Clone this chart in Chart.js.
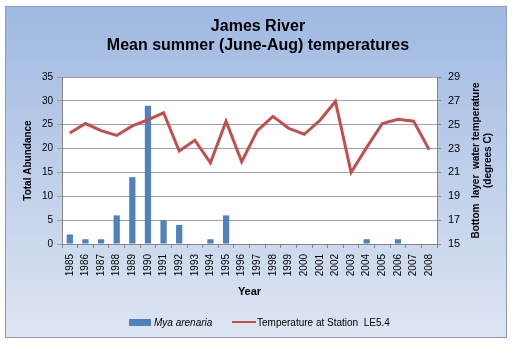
<!DOCTYPE html>
<html>
<head>
<meta charset="utf-8">
<script src="https://cdn.jsdelivr.net/npm/chart.js@4.4.0/dist/chart.umd.min.js"></script>
<style>
  html, body { margin: 0; padding: 0; background: #fff; }
  #chart { display: block; }
</style>
</head>
<body>
<canvas id="chart" width="515" height="345"></canvas>
<script>
(function () {
    "use strict";

    // Data
    const years = ['1985', '1986', '1987', '1988', '1989', '1990', '1991', '1992', '1993', '1994', '1995', '1996',
        '1997', '1998', '1999', '2000', '2001', '2002', '2003', '2004', '2005', '2006', '2007', '2008'];
    const abundance = [2, 1, 1, 6, 14, 29, 5, 4, 0, 1, 6, 0, 0, 0, 0, 0, 0, 0, 0, 1, 0, 1, 0, 0];
    const temperature = [24.3, 25.1, 24.5, 24.1, 24.9, 25.4, 26.0, 22.8, 23.7, 21.8, 25.3, 21.9,
        24.5, 25.7, 24.7, 24.2, 25.35, 26.95, 21.0, 23.1, 25.1, 25.45, 25.3, 22.9];

    const titleLines = ['James River', 'Mean summer (June-Aug) temperatures'];
    const barLabel = 'Mya arenaria';
    const lineLabel = 'Temperature at Station  LE5.4';
    const rightTitle = ['Bottom  layer  water temperature', '(degrees C)'];

    const FONT = '"Liberation Sans", Arial, sans-serif';
    const BLUE = '#4f81bd';
    const RED = '#c0504d';
    const AXIS = '#868686';

    // Frame, title, legend and right axis title
    const framePlugin = {
        id: 'frame',
        beforeDraw: function (chart) {
            const ctx = chart.ctx;
            const a = chart.chartArea;
            ctx.save();
            ctx.fillStyle = '#ffffff';
            ctx.fillRect(0, 0, chart.width, chart.height);
            const g = ctx.createLinearGradient(0, 6, 0, 338);
            g.addColorStop(0, '#9fb9e2');
            g.addColorStop(1, '#dde5f2');
            ctx.fillStyle = g;
            ctx.fillRect(5.5, 6.5, 501, 331);
            ctx.strokeStyle = '#8c9cb4';
            ctx.lineWidth = 1;
            ctx.strokeRect(5.5, 6.5, 501, 331);
            ctx.fillStyle = '#ffffff';
            ctx.fillRect(a.left, a.top, a.right - a.left, a.bottom - a.top);
            ctx.restore();
        },
        afterDraw: function (chart) {
            const ctx = chart.ctx;
            const a = chart.chartArea;
            ctx.save();
            ctx.fillStyle = '#000';
            ctx.textAlign = 'center';
            ctx.textBaseline = 'middle';
            ctx.font = 'bold 16px ' + FONT;
            ctx.fillText(titleLines[0], 258, 27);
            ctx.fillText(titleLines[1], 258, 46);

            // right axis title, reading bottom to top
            const cy = (a.top + a.bottom) / 2;
            ctx.font = 'bold 10px ' + FONT;
            [476, 488].forEach(function (x, i) {
                ctx.save();
                ctx.translate(x, cy);
                ctx.rotate(-Math.PI / 2);
                ctx.fillText(rightTitle[i], 0, 0);
                ctx.restore();
            });

            // legend
            ctx.textAlign = 'left';
            ctx.fillStyle = BLUE;
            ctx.fillRect(129, 319, 22, 7);
            ctx.fillStyle = '#000';
            ctx.font = 'italic 10px ' + FONT;
            ctx.fillText(barLabel, 154, 323);
            ctx.strokeStyle = RED;
            ctx.lineWidth = 2;
            ctx.beginPath();
            ctx.moveTo(232, 322);
            ctx.lineTo(256, 322);
            ctx.stroke();
            ctx.font = '10px ' + FONT;
            ctx.fillText(lineLabel, 257, 323);
            ctx.restore();
        }
    };

    const tickFont = { family: FONT, size: 10 };

    new Chart(document.getElementById('chart').getContext('2d'), {
        type: 'bar',
        data: {
            labels: years,
            datasets: [{
                type: 'line',
                label: lineLabel,
                data: temperature,
                yAxisID: 'y1',
                borderColor: RED,
                backgroundColor: RED,
                borderWidth: 3,
                pointRadius: 0,
                tension: 0,
                order: 0
            }, {
                type: 'bar',
                label: barLabel,
                data: abundance,
                yAxisID: 'y',
                backgroundColor: BLUE,
                categoryPercentage: 1,
                barPercentage: 0.4,
                order: 1
            }]
        },
        options: {
            responsive: false,
            animation: false,
            layout: { padding: { left: 22, right: 10, top: 77, bottom: 46 } },
            plugins: {
                legend: { display: false },
                title: { display: false },
                tooltip: { enabled: false }
            },
            scales: {
                x: {
                    offset: true,
                    grid: { offset: true, drawOnChartArea: false, tickLength: 4, color: AXIS },
                    border: { color: AXIS },
                    ticks: { autoSkip: false, minRotation: 90, maxRotation: 90, color: '#000', font: tickFont, padding: 6 },
                    title: { display: true, text: 'Year', color: '#000', font: { family: FONT, size: 11, weight: 'bold' }, padding: 0 },
                    afterFit: function (s) { s.height = 55; }
                },
                y: {
                    position: 'left',
                    min: 0,
                    max: 35,
                    ticks: { stepSize: 5, color: '#000', font: tickFont, padding: 4 },
                    grid: { color: '#a0a0a0', lineWidth: 1, tickLength: 5 },
                    border: { color: AXIS },
                    title: { display: true, text: 'Total Abundance', color: '#000', font: { family: FONT, size: 10, weight: 'bold' }, padding: 0 },
                    afterFit: function (s) { s.width = 40; }
                },
                y1: {
                    position: 'right',
                    min: 15,
                    max: 29,
                    ticks: { stepSize: 2, color: '#000', font: { family: FONT, size: 11 }, padding: 7 },
                    grid: { drawOnChartArea: false, tickLength: 4, color: AXIS },
                    border: { color: AXIS },
                    afterFit: function (s) { s.width = 68; }
                }
            }
        },
        plugins: [framePlugin]
    });
})();
</script>
</body>
</html>
